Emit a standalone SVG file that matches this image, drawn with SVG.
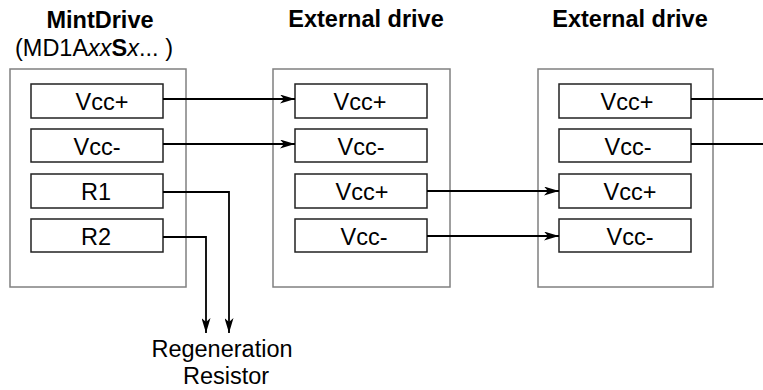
<svg xmlns="http://www.w3.org/2000/svg" width="763" height="390" viewBox="0 0 763 390">
<defs>
<style>
.outer{fill:#fff;stroke:#808080;stroke-width:1.5}
.inner{fill:#fff;stroke:#222;stroke-width:1.5}
.t{font-family:"Liberation Sans",Arial,sans-serif;font-size:23.5px;fill:#000;text-anchor:middle}
.b{font-weight:bold}
.c{fill:none;stroke:#000;stroke-width:1.8}
</style>
<marker id="ah" markerWidth="15" markerHeight="9" refX="15" refY="4.5" orient="auto" markerUnits="userSpaceOnUse">
<path d="M0,0 L15,4.5 L0,9 L4,4.5 Z" fill="#000"/>
</marker>
</defs>
<rect width="763" height="390" fill="#fff"/>

<g id="mintdrive">
<text class="t b" x="100" y="28">MintDrive</text>
<text class="t" x="94" y="56">(MD1A<tspan font-style="italic">xx</tspan><tspan font-weight="bold">S</tspan><tspan font-style="italic">x</tspan>... )</text>
<rect class="outer" x="10" y="69" width="176" height="218"/>
<rect class="inner" x="31" y="84" width="132" height="34"/>
<text class="t" x="102" y="110">Vcc+</text>
<rect class="inner" x="31" y="129" width="132" height="33"/>
<text class="t" x="97" y="155">Vcc-</text>
<rect class="inner" x="31" y="174" width="132" height="34"/>
<text class="t" x="96" y="200">R1</text>
<rect class="inner" x="31" y="219" width="132" height="33"/>
<text class="t" x="96" y="245">R2</text>
</g>

<g id="drive2">
<text class="t b" x="366" y="27">External drive</text>
<rect class="outer" x="273" y="69" width="177" height="218"/>
<rect class="inner" x="295" y="84" width="132" height="34"/>
<text class="t" x="360" y="110">Vcc+</text>
<rect class="inner" x="295" y="129" width="132" height="33"/>
<text class="t" x="361" y="155">Vcc-</text>
<rect class="inner" x="295" y="174" width="132" height="34"/>
<text class="t" x="362" y="200">Vcc+</text>
<rect class="inner" x="295" y="219" width="132" height="33"/>
<text class="t" x="364" y="245">Vcc-</text>
</g>

<g id="drive3">
<text class="t b" x="630" y="27">External drive</text>
<rect class="outer" x="538" y="69" width="175" height="218"/>
<rect class="inner" x="559" y="84" width="132" height="34"/>
<text class="t" x="627" y="110">Vcc+</text>
<rect class="inner" x="559" y="129" width="132" height="33"/>
<text class="t" x="628" y="155">Vcc-</text>
<rect class="inner" x="559" y="174" width="132" height="34"/>
<text class="t" x="630" y="200">Vcc+</text>
<rect class="inner" x="559" y="219" width="132" height="33"/>
<text class="t" x="630" y="245">Vcc-</text>
</g>

<g id="resistor">
<text class="t" x="222" y="357">Regeneration</text>
<text class="t" x="226" y="384">Resistor</text>
</g>

<g id="connectors">
<path class="c" d="M163,99 H295" marker-end="url(#ah)"/>
<path class="c" d="M163,144 H295" marker-end="url(#ah)"/>
<path class="c" d="M427,191 H559" marker-end="url(#ah)"/>
<path class="c" d="M427,236 H559" marker-end="url(#ah)"/>
<path class="c" d="M163,192 H229 V333" marker-end="url(#ah)"/>
<path class="c" d="M163,237 H206 V333" marker-end="url(#ah)"/>
<path class="c" d="M691,99 H763"/>
<path class="c" d="M691,144 H763"/>
</g>
</svg>
